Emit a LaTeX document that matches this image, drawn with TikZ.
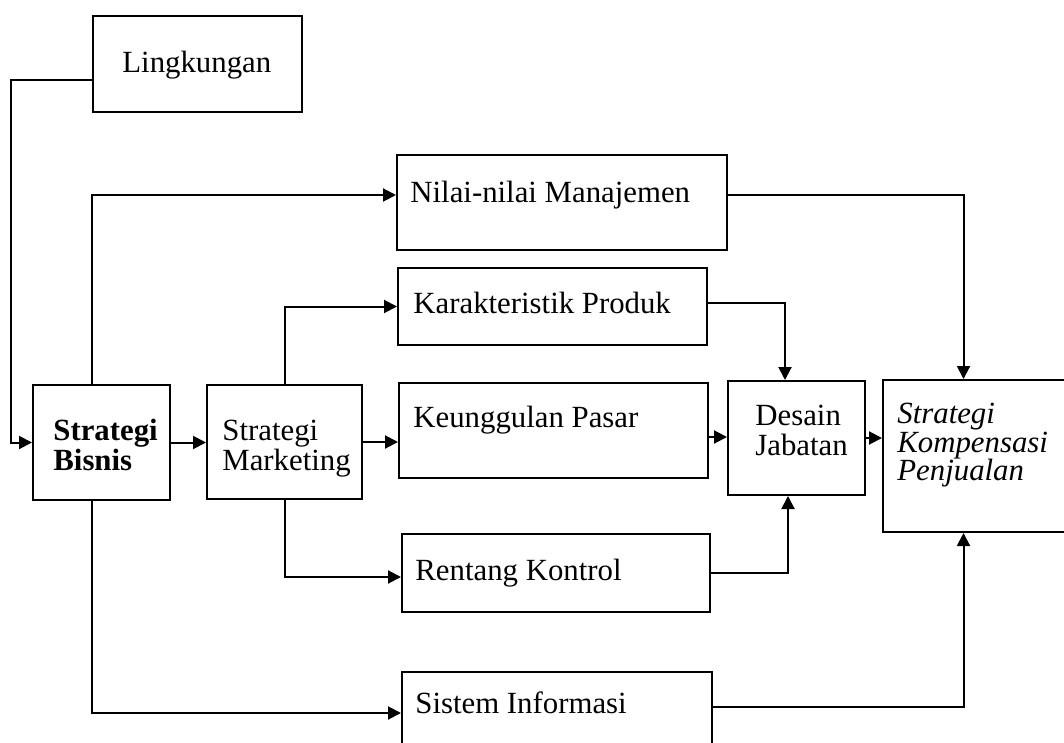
\documentclass[tikz,border=0pt]{standalone}
\usepackage{fontspec}
\setmainfont{Liberation Serif}
\usetikzlibrary{arrows.meta,calc}
\newcommand\pbox[5]{\node[box, minimum width={(#4-#2)*0.5pt}, minimum height={(#5-#3)*0.5pt}] (#1) at ({(#2+#4)/2},{(#3+#5)/2}) {};}
\begin{document}
\begin{tikzpicture}[x=0.5pt,y=-0.5pt,
  box/.style={draw, line width=1pt, inner sep=0pt},
  lbl/.style={anchor=base west, inner sep=0pt, font=\fontsize{15.4}{18}\selectfont},
  con/.style={line width=1pt},
  arr/.style={line width=1pt, -{Triangle[length=6.5pt,width=6.5pt]}}]
\useasboundingbox (0,0) rectangle (1064,743);
% boxes
\pbox{lk}{93}{16}{302}{112}
\pbox{sb}{33}{385}{170}{500}
\pbox{sm}{207}{385}{362}{499}
\pbox{nm}{397}{155}{727}{250}
\pbox{kp}{398}{268}{707}{345}
\pbox{kep}{399}{383}{708}{478}
\pbox{rk}{402}{534}{710}{612}
\pbox{si}{402}{672}{712}{762}
\pbox{dj}{728}{381}{865}{495}
\pbox{sk}{883}{380}{1078}{532}
% texts
\node[lbl] (tlk) at (122,73) {Lingkungan};
\node[lbl, font=\fontsize{15.4}{18}\selectfont\bfseries] (tsb1) at (53,440) {Strategi};
\node[lbl, font=\fontsize{15.4}{18}\selectfont\bfseries] (tsb2) at (53,470) {Bisnis};
\node[lbl] (tsm1) at (222,440) {Strategi};
\node[lbl] (tsm2) at (222,470) {Marketing};
\node[lbl] (tnm) at (410,203) {Nilai-nilai Manajemen};
\node[lbl] (tkp) at (413,313) {Karakteristik Produk};
\node[lbl] (tkep) at (413,427) {Keunggulan Pasar};
\node[lbl] (trk) at (415,580) {Rentang Kontrol};
\node[lbl] (tsi) at (415,713) {Sistem Informasi};
\node[lbl] (tdj1) at (755,425) {Desain};
\node[lbl] (tdj2) at (755,455) {Jabatan};
\node[lbl, font=\fontsize{15.4}{18}\selectfont\itshape] (tsk1) at (897,423) {Strategi};
\node[lbl, font=\fontsize{15.4}{18}\selectfont\itshape] (tsk2) at (897,452) {Kompensasi};
\node[lbl, font=\fontsize{15.4}{18}\selectfont\itshape] (tsk3) at (897,480) {Penjualan};
% connectors
\draw[arr] ([yshift=-8pt]lk.west) -| ([xshift=-10.5pt]sb.west) -- (sb.west);
\draw[arr] ([xshift=-4.75pt]sb.north) |- ([yshift=3.75pt]nm.west);
\draw[arr] (sb.east) -- (sb.east -| sm.west);
\draw[arr] (sm.north) |- (kp.west);
\draw[arr] (sm.east) -- (sm.east -| kep.west);
\draw[arr] (sm.south) |- ([yshift=-2pt]rk.west);
\draw[arr] ([xshift=-4.75pt]sb.south) |- ([yshift=2pt]si.west);
\draw[arr] ([yshift=3.75pt]nm.east) -| ([xshift=-8.5pt]sk.north);
\draw[arr] ([yshift=1.75pt]kp.east) -| ([xshift=-5.75pt]dj.north);
\draw[arr] ([yshift=-3.25pt]kep.east) -- ([yshift=-3.25pt]kep.east -| dj.west);
\draw[arr] (rk.east) -| ([xshift=-4.25pt]dj.south);
\draw[arr] (dj.east) -- (dj.east -| sk.west);
\draw[arr] ([yshift=5pt]si.east) -| ([xshift=-8.5pt]sk.south);
\end{tikzpicture}
\end{document}
